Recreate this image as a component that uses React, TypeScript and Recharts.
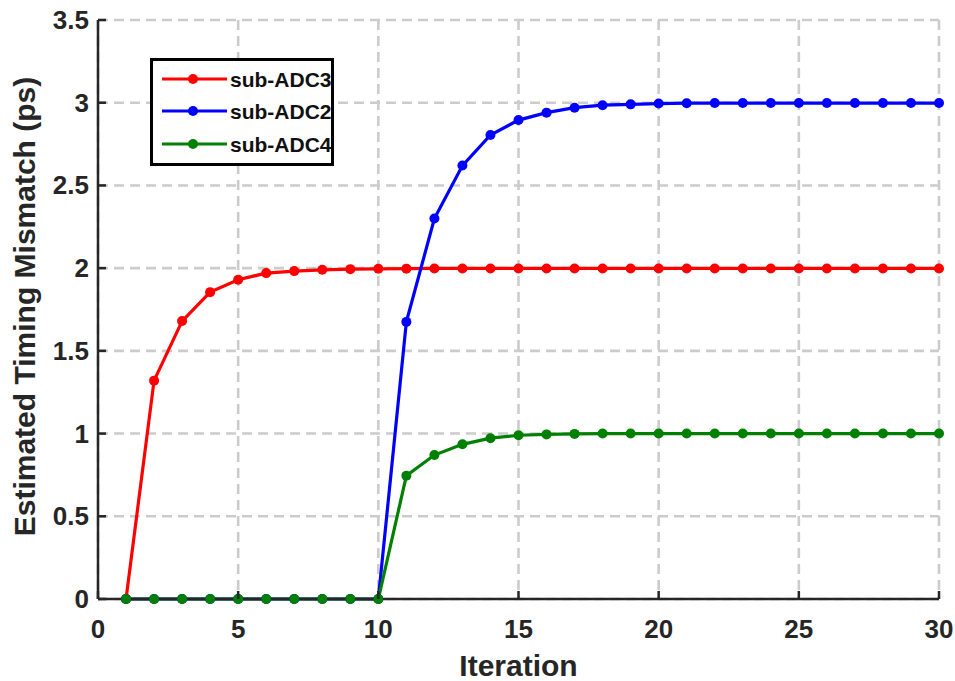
import React from 'react';
import { LineChart, Line, XAxis, YAxis, CartesianGrid, Legend, Label } from 'recharts';

// Iteration index and the estimated timing mismatch (ps) for each sub-ADC
const iterations = [
  1, 2, 3, 4, 5, 6, 7, 8, 9, 10,
  11, 12, 13, 14, 15, 16, 17, 18, 19, 20,
  21, 22, 23, 24, 25, 26, 27, 28, 29, 30,
];

const subAdc3 = [
  0, 1.32, 1.68, 1.855, 1.93, 1.97, 1.982, 1.99, 1.994, 1.996,
  1.997, 1.998, 1.998, 1.998, 1.998, 1.998, 1.998, 1.998, 1.998, 1.998,
  1.998, 1.998, 1.998, 1.998, 1.998, 1.998, 1.998, 1.998, 1.998, 1.998,
];

const subAdc2 = [
  0, 0, 0, 0, 0, 0, 0, 0, 0, 0,
  1.675, 2.3, 2.62, 2.805, 2.895, 2.94, 2.97, 2.985, 2.99, 2.995,
  2.997, 2.998, 2.998, 2.998, 2.998, 2.998, 2.998, 2.998, 2.998, 2.998,
];

const subAdc4 = [
  0, 0, 0, 0, 0, 0, 0, 0, 0, 0,
  0.745, 0.87, 0.935, 0.972, 0.99, 0.995, 0.998, 1.0, 1.0, 1.0,
  1.0, 1.0, 1.0, 1.0, 1.0, 1.0, 1.0, 1.0, 1.0, 1.0,
];

const xTicks = [0, 5, 10, 15, 20, 25, 30];
const yTicks = [0, 0.5, 1, 1.5, 2, 2.5, 3, 3.5];

const seriesKeys = ['adc3', 'adc2', 'adc4'];
const seriesNames = ['sub-ADC3', 'sub-ADC2', 'sub-ADC4'];
const seriesColors = ['#ff0000', '#0000ff', '#008000'];

const xLabel = 'Iteration';
const yLabel = 'Estimated Timing Mismatch (ps)';

const rows = iterations.map((x, i) => ({
  x,
  adc3: subAdc3[i],
  adc2: subAdc2[i],
  adc4: subAdc4[i],
}));

const FONT = '"Liberation Sans", Arial, Helvetica, sans-serif';
const INK = '#262626';
const TICK_LEN = 8;

const fmt = (v: number) => String(v);

const BottomTick = (props: any) => {
  const { x, y, payload } = props;
  return (
    <g>
      <line x1={x} y1={y} x2={x} y2={y - TICK_LEN} stroke={INK} strokeWidth={2.5} />
      <text x={x} y={y + 39} textAnchor="middle" fontFamily={FONT} fontWeight="bold" fontSize={26} fill={INK}>
        {fmt(payload.value)}
      </text>
    </g>
  );
};

const TopTick = (props: any) => {
  const { x, y } = props;
  return <line x1={x} y1={y} x2={x} y2={y + TICK_LEN} stroke={INK} strokeWidth={2.5} />;
};

const LeftTick = (props: any) => {
  const { x, y, payload } = props;
  return (
    <g>
      <line x1={x} y1={y} x2={x + TICK_LEN} y2={y} stroke={INK} strokeWidth={2.5} />
      <text x={x - 9} y={y + 9} textAnchor="end" fontFamily={FONT} fontWeight="bold" fontSize={26} fill={INK}>
        {fmt(payload.value)}
      </text>
    </g>
  );
};

const RightTick = (props: any) => {
  const { x, y } = props;
  return <line x1={x} y1={y} x2={x - TICK_LEN} y2={y} stroke={INK} strokeWidth={2.5} />;
};

// Legend drawn in series order: sub-ADC3, sub-ADC2, sub-ADC4
const LegendBox = () => {
  const rowY = [21, 53, 86];
  return (
    <svg width={184} height={108} style={{ display: 'block' }}>
      <rect x={1.5} y={1.5} width={181} height={105} fill="#ffffff" stroke="#000000" strokeWidth={3} />
      {seriesNames.map((name, i) => (
        <g key={name}>
          <line x1={12} y1={rowY[i]} x2={77} y2={rowY[i]} stroke={seriesColors[i]} strokeWidth={3.2} />
          <circle cx={43} cy={rowY[i]} r={5} fill={seriesColors[i]} />
          <text x={80} y={rowY[i] + 7.5} fontFamily={FONT} fontWeight="bold" fontSize={21} fill="#111111">
            {name}
          </text>
        </g>
      ))}
    </svg>
  );
};

const XTitle = (props: any) => {
  const vb = props.viewBox || {};
  return (
    <text x={vb.x + vb.width / 2} y={vb.y + 77} textAnchor="middle" fontFamily={FONT} fontWeight="bold" fontSize={30} fill={INK}>
      {xLabel}
    </text>
  );
};

const YTitle = (props: any) => {
  const vb = props.viewBox || {};
  const cx = 35;
  const cy = vb.y + vb.height / 2 - 3;
  return (
    <text x={cx} y={cy} textAnchor="middle" fontFamily={FONT} fontWeight="bold" fontSize={30} fill={INK} transform={`rotate(-90, ${cx}, ${cy})`}>
      {yLabel}
    </text>
  );
};

export default function App() {
  return (
    <div style={{ position: 'absolute', left: 0, top: 0, width: 955, height: 681, background: '#ffffff' }}>
      <LineChart width={955} height={681} data={rows} margin={{ top: 20, right: 16, bottom: 0, left: 0 }}>
        <CartesianGrid stroke="#cccccc" strokeWidth={2.6} strokeDasharray="10 6" />
        <XAxis
          dataKey="x"
          type="number"
          domain={[0, 30]}
          ticks={xTicks}
          height={82}
          tickSize={0}
          tickMargin={0}
          tickLine={false}
          axisLine={{ stroke: INK, strokeWidth: 2.5 }}
          tick={<BottomTick />}
          interval={0}
        >
          <Label content={<XTitle />} />
        </XAxis>
        <XAxis
          xAxisId="top"
          orientation="top"
          dataKey="x"
          type="number"
          domain={[0, 30]}
          ticks={xTicks}
          height={0}
          tickSize={0}
          tickMargin={0}
          tickLine={false}
          axisLine={{ stroke: INK, strokeWidth: 2.5 }}
          tick={<TopTick />}
          interval={0}
        />
        <YAxis
          type="number"
          domain={[0, 3.5]}
          ticks={yTicks}
          width={98}
          tickSize={0}
          tickMargin={0}
          tickLine={false}
          axisLine={{ stroke: INK, strokeWidth: 2.5 }}
          tick={<LeftTick />}
          interval={0}
        >
          <Label content={<YTitle />} />
        </YAxis>
        <YAxis
          yAxisId="right"
          orientation="right"
          type="number"
          domain={[0, 3.5]}
          ticks={yTicks}
          width={0}
          tickSize={0}
          tickMargin={0}
          tickLine={false}
          axisLine={{ stroke: INK, strokeWidth: 2.5 }}
          tick={<RightTick />}
          interval={0}
        />
        <Legend
          layout="horizontal"
          verticalAlign="middle"
          align="center"
          content={<LegendBox />}
          wrapperStyle={{ left: 150, top: 58, width: 184, height: 108 }}
        />
        {seriesKeys.map((k, i) => (
          <Line
            key={k}
            dataKey={k}
            name={seriesNames[i]}
            type="linear"
            stroke={seriesColors[i]}
            strokeWidth={3.2}
            dot={{ r: 5, fill: seriesColors[i], stroke: seriesColors[i], strokeWidth: 0 }}
            activeDot={false}
            isAnimationActive={false}
          />
        ))}
      </LineChart>
    </div>
  );
}
